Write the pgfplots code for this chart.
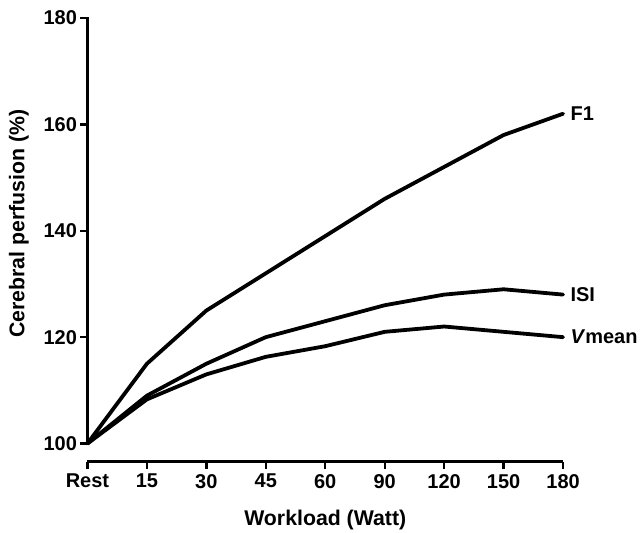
\documentclass[border=0pt]{standalone}
\usepackage{pgfplots}
\pgfplotsset{compat=1.18}
\usepackage{fontspec}
\setmainfont{Liberation Sans}

\tikzset{
  curve/.style={black, mark=none, line width=3.8bp, line join=round, line cap=round},
  endlabel/.style={right, xshift=4bp, font=\fontsize{20bp}{24bp}\selectfont\bfseries},
}

\begin{document}
\begin{tikzpicture}
\begin{axis}[
  scale only axis,
  width=476bp, height=444bp,
  xmin=0, xmax=8,
  ymin=96.6, ymax=180,
  axis lines=left,
  axis line style={-, line width=2.6bp},
  y axis line style={draw=none},
  tick align=outside,
  major tick length=7bp,
  tick style={line width=2.4bp, black},
  xtick={0,1,2,3,4,5,6,7,8},
  xticklabels={Rest,15,30,45,60,90,120,150,180},
  ytick={100,120,140,160,180},
  font=\fontsize{21.3bp}{25bp}\selectfont\bfseries,
  /pgf/number format/assume math mode=true,
  xticklabel style={font=\fontsize{20bp}{24bp}\selectfont\bfseries, yshift=-2bp},
  yticklabel style={font=\fontsize{20bp}{24bp}\selectfont\bfseries},
  xlabel={Workload (Watt)},
  ylabel={Cerebral perfusion (\%)},
  xlabel style={at={(axis description cs:0.5,0)}, anchor=center, yshift=-58bp},
  ylabel style={at={(axis description cs:-0.144,0.536)}, anchor=center},
  clip=false,
]
% perfusion relative to rest
\addplot[curve] coordinates {(0,100) (1,115) (2,125) (3,132) (4,139) (5,146) (6,152) (7,158) (8,162)};
\addplot[curve] coordinates {(0,100) (1,109) (2,115) (3,120) (4,123) (5,126) (6,128) (7,129) (8,128)};
\addplot[curve] coordinates {(0,100) (1,108.3) (2,113) (3,116.3) (4,118.3) (5,121) (6,122) (7,121) (8,120)};
\node[endlabel] at (axis cs:8,162) {F1};
\node[endlabel] at (axis cs:8,128) {ISI};
\node[endlabel] at (axis cs:8,120) {\textit{V}mean};
% vertical axis line spans the labelled range only
\draw[line width=2.6bp, line cap=rect] (axis cs:0,100) -- (axis cs:0,180);
\end{axis}
\useasboundingbox ([xshift=-87.5bp, yshift=-70bp]current axis.south west)
  rectangle ([xshift=80bp, yshift=18bp]current axis.north east);
\end{tikzpicture}
\end{document}
